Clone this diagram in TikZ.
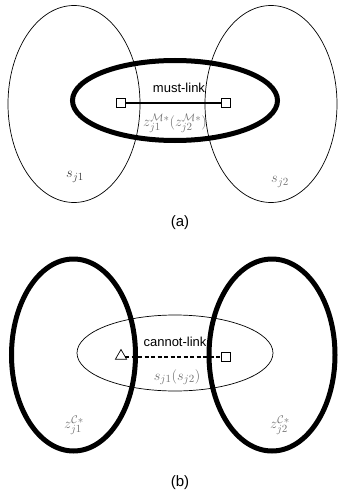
\documentclass[tikz,border=0pt]{standalone}
\usepackage{fontspec}
\newfontfamily\lsans{Liberation Sans}
\usetikzlibrary{shapes.geometric}
\begin{document}
\begin{tikzpicture}[x=1pt,y=-1pt,
  thinell/.style={draw,ellipse,line width=0.7pt,inner sep=0pt,outer sep=0pt},
  thickell/.style={draw,ellipse,line width=5pt,inner sep=0pt,outer sep=0pt},
  endsq/.style={draw,rectangle,line width=0.7pt,minimum size=9.5pt,inner sep=0pt,fill=white},
  endtri/.style={draw,regular polygon,regular polygon sides=3,line width=0.7pt,minimum size=13pt,inner sep=0pt,fill=white},
  sanslbl/.style={font=\lsans\fontsize{13}{15}\selectfont,inner sep=0pt},
  caplbl/.style={font=\lsans\fontsize{15}{17}\selectfont,inner sep=0pt},
  mathlbl/.style={font=\fontsize{15}{17}\selectfont,inner sep=0pt,text=black!55},
  linkline/.style={line width=2pt},
  dashlink/.style={line width=2pt,dash pattern=on 4pt off 2.5pt}
]
\useasboundingbox (0,0) rectangle (341,503);
% ---- panel (a)
\node[thinell,minimum width=132pt,minimum height=197pt] (la) at (74,104) {};
\node[thinell,minimum width=132pt,minimum height=197pt] (ra) at (271,104) {};
\node[thickell,minimum width=205pt,minimum height=80pt] (ma) at (175,100.5) {};
\node[endsq] (sa1) at (121,103) {};
\node[endsq] (sa2) at (226,103) {};
\draw[linkline] (sa1) -- (sa2);
\node[sanslbl] (mustlbl) at (179,88) {must-link};
\node[mathlbl] (zlbl) at (175,123) {$z_{j1}^{\mathcal{M}*}(z_{j2}^{\mathcal{M}*})$};
\node[mathlbl,text=black!75] (s1) at (75,177) {$s_{j1}$};
\node[mathlbl] (s2) at (280,182) {$s_{j2}$};
\node[caplbl] (capa) at (180,223) {(a)};
% ---- panel (b)
\node[thinell,minimum width=196pt,minimum height=76pt] (mb) at (175,353) {};
\node[sanslbl] (cantlbl) at (175,342) {cannot-link};
\node[thickell,minimum width=124pt,minimum height=192pt] (lb) at (73.5,355) {};
\node[thickell,minimum width=126pt,minimum height=192pt] (rb) at (272,355) {};
\node[endtri] (tb) at (121,356) {};
\node[endsq] (sb) at (226,357) {};
\draw[dashlink] (tb.east|-sb) -- (sb);
\node[mathlbl] (slbl) at (177,377) {$s_{j1}(s_{j2})$};
\node[mathlbl] (zc1) at (74,425) {$z_{j1}^{\mathcal{C}*}$};
\node[mathlbl] (zc2) at (280,425) {$z_{j2}^{\mathcal{C}*}$};
\node[caplbl] (capb) at (180,483) {(b)};
\end{tikzpicture}
\end{document}
